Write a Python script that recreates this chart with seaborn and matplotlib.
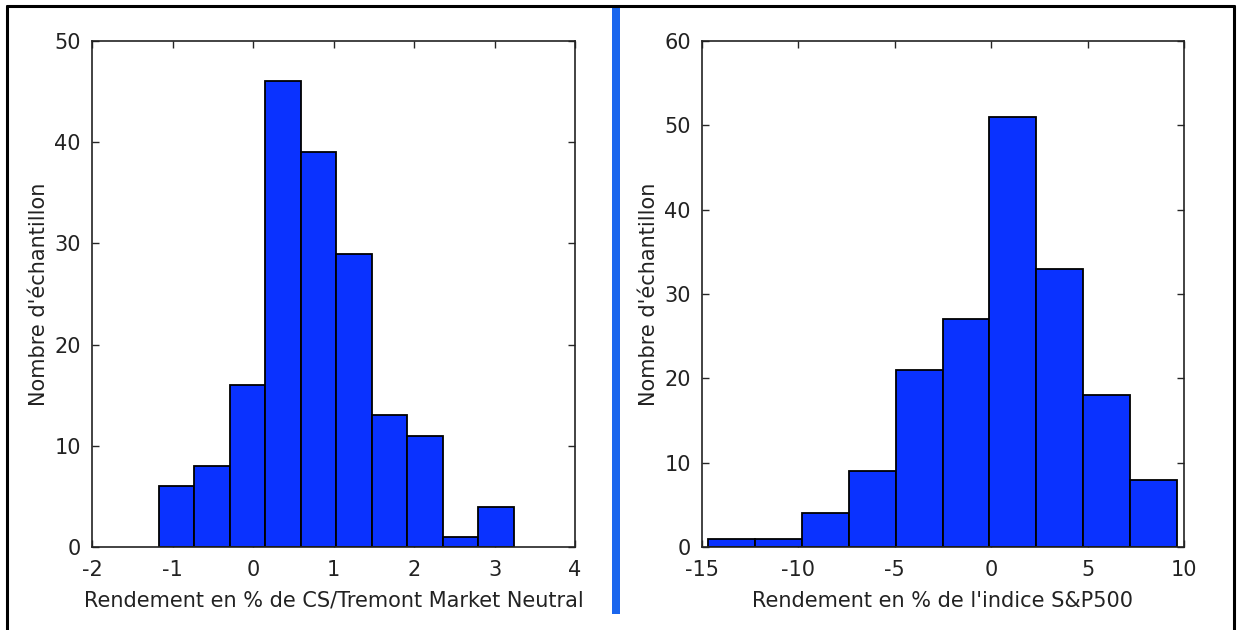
import numpy as np
import pandas as pd
import matplotlib
matplotlib.use('Agg')
import matplotlib.pyplot as plt
from matplotlib.lines import Line2D
from matplotlib.patches import Rectangle
import seaborn as sns

# Données (centres des classes et effectifs)
centres_cs = [-0.95, -0.51, -0.07, 0.38, 0.82, 1.26, 1.70, 2.14, 2.58, 3.02]
effectifs_cs = [6, 8, 16, 46, 39, 29, 13, 11, 1, 4]

centres_sp = [-13.46, -11.03, -8.60, -6.17, -3.74, -1.31, 1.12, 3.55, 5.98, 8.41]
effectifs_sp = [1, 1, 4, 9, 21, 27, 51, 33, 18, 8]

xlabel_cs = 'Rendement en % de CS/Tremont Market Neutral'
xlabel_sp = "Rendement en % de l'indice S&P500"
ylabel = "Nombre d'échantillon"

sns.set_style('white')
plt.rcParams['font.family'] = ['DejaVu Sans']
plt.rcParams['axes.unicode_minus'] = False

fig = plt.figure(figsize=(12.42, 6.3), dpi=100)
W, H = 1242, 630

def px_axes(x0, x1, y0, y1):
    return fig.add_axes([x0 / W, 1 - y1 / H, (x1 - x0) / W, (y1 - y0) / H])

ax1 = px_axes(92, 575, 41, 547)
ax2 = px_axes(702, 1184, 41, 547)

bleu = '#0a32ff'

def histo(ax, centres, effectifs, xlim, ylim, xticks, yticks, xlabel):
    df = pd.DataFrame({'centre': centres, 'n': effectifs})
    w = centres[1] - centres[0]
    sns.histplot(data=df, x='centre', weights='n', bins=len(centres),
                 binrange=(centres[0] - w / 2, centres[-1] + w / 2),
                 color=bleu, alpha=1, edgecolor='black', linewidth=1.3, ax=ax)
    ax.set_xlim(*xlim)
    ax.set_ylim(*ylim)
    ax.set_xticks(xticks)
    ax.set_yticks(yticks)
    ax.set_xlabel(xlabel, fontsize=15, color='#222222', labelpad=8)
    ax.set_ylabel(ylabel, fontsize=15, color='#222222', labelpad=4)
    ax.tick_params(axis='x', pad=9)
    ax.tick_params(axis='y', pad=8)
    ax.tick_params(direction='in', length=5, width=1, top=True, right=True,
                   labelsize=15, labelcolor='#222222',
                   bottom=True, left=True)
    for s in ax.spines.values():
        s.set_visible(True)
        s.set_color('#222222')
        s.set_linewidth(1.2)

histo(ax1, centres_cs, effectifs_cs, (-2, 4), (0, 50),
      [-2, -1, 0, 1, 2, 3, 4], [0, 10, 20, 30, 40, 50], xlabel_cs)
histo(ax2, centres_sp, effectifs_sp, (-15, 10), (0, 60),
      [-15, -10, -5, 0, 5, 10], [0, 10, 20, 30, 40, 50, 60], xlabel_sp)

# cadre extérieur et séparateur bleu
for xs, ys in [((7, 7), (6, 640)), ((1234, 1234), (6, 640)), ((7, 1234), (6, 6))]:
    fig.add_artist(Line2D([x / W for x in xs], [1 - y / H for y in ys],
                          color='black', linewidth=2.2))
fig.add_artist(Rectangle((612 / W, 1 - 614 / H), 8 / W, (614 - 8) / H,
                         facecolor='#1a66ee', edgecolor='none'))

fig.savefig('out.png', dpi=100)
